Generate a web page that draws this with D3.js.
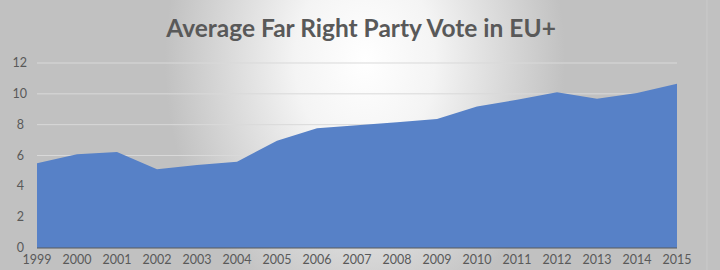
<!DOCTYPE html>
<html>
<head>
<meta charset="utf-8">
<script src="https://cdn.jsdelivr.net/npm/d3@7"></script>
<style>
html,body{margin:0;padding:0;background:#c1c1c1;}
svg{display:block;font-family:Lato,"Open Sans",sans-serif;}
</style>
</head>
<body>
<div id="chart"></div>
<script>
(function(){

const years = [1999,2000,2001,2002,2003,2004,2005,2006,2007,2008,2009,2010,2011,2012,2013,2014,2015];
const votes = [5.5,6.08,6.23,5.11,5.39,5.6,6.95,7.77,7.97,8.16,8.36,9.18,9.61,10.11,9.68,10.05,10.65];
const yTicks = [0,2,4,6,8,10,12];

const width = 720;
const height = 270;
const margin = {top:63, right:40, bottom:22, left:37};

const svg = d3.select("#chart")
.append("svg")
.attr("width",width)
.attr("height",height);

// background glow
const defs = svg.append("defs");
const glow = defs.append("radialGradient")
.attr("id","bg")
.attr("gradientUnits","userSpaceOnUse")
.attr("cx",365).attr("cy",60).attr("r",200)
.attr("gradientTransform","translate(365,60) scale(1,1.35) translate(-365,-60)");
glow.append("stop").attr("offset","0%").attr("stop-color","#ffffff");
glow.append("stop").attr("offset","35%").attr("stop-color","#f4f4f4");
glow.append("stop").attr("offset","100%").attr("stop-color","#c1c1c1");

svg.append("rect")
.attr("width",width)
.attr("height",height)
.attr("fill","url(#bg)");

svg.append("line")
.attr("x1",707).attr("x2",707)
.attr("y1",0).attr("y2",height)
.attr("stroke","#cacaca");

const x = d3.scalePoint()
.domain(years)
.range([margin.left, width - margin.right - 3]);

const y = d3.scaleLinear()
.domain([0,12])
.range([height - margin.bottom, margin.top]);

// gridlines
svg.append("g")
.selectAll("line")
.data(yTicks.slice(1))
.enter()
.append("line")
.attr("x1",margin.left)
.attr("x2",x(2015))
.attr("y1",d=>y(d))
.attr("y2",d=>y(d))
.attr("stroke","#d9d9d9")
.attr("stroke-width",1);

// area
const area = d3.area()
.x((d,i)=>x(years[i]))
.y0(y(0))
.y1(d=>y(d));

svg.append("path")
.datum(votes)
.attr("d",area)
.attr("fill","#5781c7");

// baseline
svg.append("line")
.attr("x1",margin.left)
.attr("x2",x(2015))
.attr("y1",y(0))
.attr("y2",y(0))
.attr("stroke","#5a5a5a")
.attr("stroke-width",1);

// y labels
svg.append("g")
.selectAll("text")
.data(yTicks)
.enter()
.append("text")
.attr("x",d=>d>=10 ? 27 : 24)
.attr("y",d=>y(d)+4)
.attr("text-anchor","end")
.attr("font-size","12.5px")
.attr("fill","#595959")
.text(d=>d);

// x labels
svg.append("g")
.selectAll("text")
.data(years)
.enter()
.append("text")
.attr("x",d=>x(d))
.attr("y",264)
.attr("text-anchor","middle")
.attr("font-size","12.5px")
.attr("fill","#595959")
.text(d=>d);

// title
svg.append("text")
.attr("x",361)
.attr("y",37)
.attr("text-anchor","middle")
.attr("font-size","24.5px")
.attr("font-weight","bold")
.attr("fill","#595959")
.text("Average Far Right Party Vote in EU+");

})();
</script>
</body>
</html>
